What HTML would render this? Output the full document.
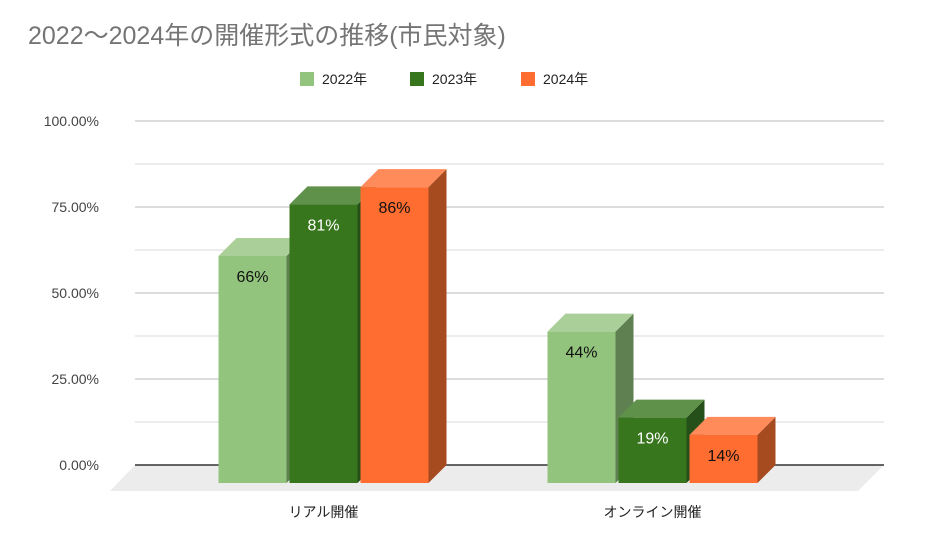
<!DOCTYPE html>
<html><head><meta charset="utf-8"><style>
body{margin:0;background:#fff;}
svg text{font-family:"Liberation Sans","Noto Sans CJK JP",sans-serif;}
</style></head><body>
<svg width="936" height="537" viewBox="0 0 936 537">
<text x="28" y="44" font-size="25" fill="#757575">2022～2024年の開催形式の推移(市民対象)</text>
<g>
<rect x="300" y="72" width="14" height="14" fill="#93c47d"/>
<text x="322" y="84" font-size="14" fill="#222">2022年</text>
<rect x="410" y="72" width="14" height="14" fill="#38761d"/>
<text x="432" y="84" font-size="14" fill="#222">2023年</text>
<rect x="521" y="72" width="14" height="14" fill="#ff6d31"/>
<text x="543" y="84" font-size="14" fill="#222">2024年</text>
</g>
<g id="grid"></g>
<polygon points="135,465 884,465 858,491 110,491" fill="#ececec"/>
<line x1="135" y1="465" x2="884" y2="465" stroke="#333" stroke-width="1.5"/>
<g id="bars"></g>
</svg>
<script>
const categories=["リアル開催","オンライン開催"];
const s2022=[66,44];
const s2023=[81,19];
const s2024=[86,14];
const yTicks=[0,25,50,75,100];
const series=[
 {name:"2022",vals:s2022,front:"#93c47d",top:"#aacf99",side:"#5f8050",tc:"#111"},
 {name:"2023",vals:s2023,front:"#38761d",top:"#5f914a",side:"#26501a",tc:"#fff"},
 {name:"2024",vals:s2024,front:"#ff6d31",top:"#ff8a5a",side:"#a64a20",tc:"#111"}];
const NS="http://www.w3.org/2000/svg";
const y0=465,pxPer=3.44,depth=18;
function yBack(v){return y0-v*pxPer;}
function xCenter(i){return 323.5+i*329;}
const grid=document.getElementById('grid');
for(let k=0;k<=8;k++){
 const v=k*12.5,y=yBack(v);
 if(k>0){const l=document.createElementNS(NS,'line');
 l.setAttribute('x1',135);l.setAttribute('x2',884);l.setAttribute('y1',y);l.setAttribute('y2',y);
 l.setAttribute('stroke',k%2==0?'#d0d0d0':'#e6e6e6');l.setAttribute('stroke-width',1.5);
 
 
 grid.appendChild(l);}
}
yTicks.forEach(v=>{const t=document.createElementNS(NS,'text');
 t.setAttribute('x',99);t.setAttribute('y',yBack(v)+5);t.setAttribute('text-anchor','end');
 t.setAttribute('font-size',14);t.setAttribute('fill','#444');t.textContent=v.toFixed(2)+'%';
 
 
 grid.appendChild(t);});
const bars=document.getElementById('bars');
const bw=68,gap=3;
categories.forEach((c,i)=>{
 const left=xCenter(i)-(3*bw+2*gap)/2;
 series.forEach((s,j)=>{
  const v=s.vals[i],x=left+j*(bw+gap),yb=y0+depth,yt=yb-v*pxPer;
  const g=document.createElementNS(NS,'g');
  
  
  const side=document.createElementNS(NS,'polygon');
  side.setAttribute('points',`${x+bw},${yt} ${x+bw+depth},${yt-depth} ${x+bw+depth},${yb-depth} ${x+bw},${yb}`);
  side.setAttribute('fill',s.side);g.appendChild(side);
  const top=document.createElementNS(NS,'polygon');
  top.setAttribute('points',`${x},${yt} ${x+depth},${yt-depth} ${x+bw+depth},${yt-depth} ${x+bw},${yt}`);
  top.setAttribute('fill',s.top);g.appendChild(top);
  const f=document.createElementNS(NS,'rect');
  f.setAttribute('x',x);f.setAttribute('y',yt);f.setAttribute('width',bw);f.setAttribute('height',yb-yt);
  f.setAttribute('fill',s.front);g.appendChild(f);
  const t=document.createElementNS(NS,'text');
  t.setAttribute('x',x+bw/2);t.setAttribute('y',yt+26);t.setAttribute('text-anchor','middle');
  t.setAttribute('font-size',16);t.setAttribute('fill',s.tc);t.textContent=v+'%';
  
  
  g.appendChild(t);
  bars.appendChild(g);
 });
 const ct=document.createElementNS(NS,'text');
 ct.setAttribute('x',xCenter(i));ct.setAttribute('y',517);ct.setAttribute('text-anchor','middle');
 ct.setAttribute('font-size',14);ct.setAttribute('fill','#222');ct.textContent=c;
 
 
 bars.appendChild(ct);
});
</script>
</body></html>
